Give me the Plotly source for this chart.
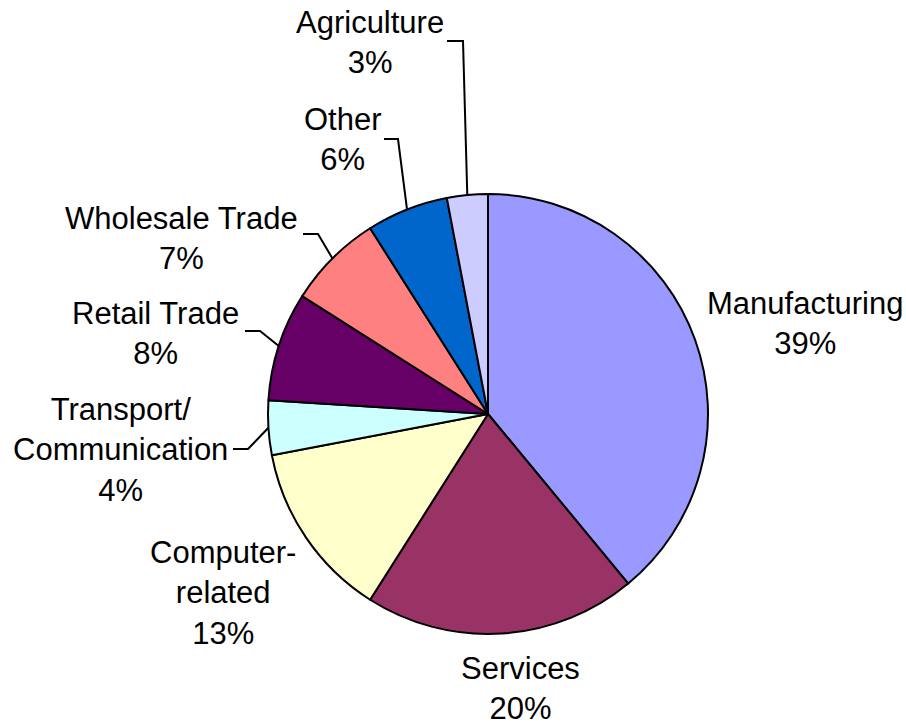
import math
import plotly.graph_objects as go

# ---- data ----
categories = ["Manufacturing", "Services", "Computer-related", "Transport/Communication",
              "Retail Trade", "Wholesale Trade", "Other", "Agriculture"]
label_lines = ["Manufacturing", "Services", "Computer-<br>related", "Transport/<br>Communication",
               "Retail Trade", "Wholesale Trade", "Other", "Agriculture"]
values = [39, 20, 13, 4, 8, 7, 6, 3]

# ---- style / layout ----
colors = ["#9999FF", "#993366", "#FFFFCC", "#CCFFFF", "#660066", "#FF8080", "#0066CC", "#CCCCFF"]
W, H = 906, 726
CX, CY, R = 488, 414, 220
FONT = "Liberation Sans, Arial, sans-serif"
FS = 31
# label block centers (pixels)
label_pos = [(805, 323), (520, 688), (223, 593), (120, 450),
             (155, 333), (181, 238), (343, 139), (370, 43)]
# leader lines: index -> (x_start, x_elbow, y) in pixels; end point derived from slice angle
leaders = {3: (233, 248, 449), 4: (245, 260, 331), 5: (303, 318, 234),
           6: (384, 398, 139), 7: (447, 463, 41)}

fig = go.Figure(go.Pie(
    labels=categories, values=values, sort=False, direction="clockwise", rotation=0,
    marker=dict(colors=colors, line=dict(color="black", width=2)),
    textinfo="none", hoverinfo="label+percent", showlegend=False,
    domain=dict(x=[(CX - R) / W, (CX + R) / W], y=[(H - CY - R) / H, (H - CY + R) / H]),
))

total = sum(values)
annotations = []
shapes = []
cum = 0
for i, (lab, v) in enumerate(zip(label_lines, values)):
    mid = (cum + v / 2) / total
    cum += v
    pct = round(100 * v / total)
    lx, ly = label_pos[i]
    annotations.append(dict(
        x=lx / W, y=1 - ly / H, xref="paper", yref="paper",
        text=f"{lab}<br>{pct}%", showarrow=False, align="center",
        xanchor="center", yanchor="middle",
        font=dict(family=FONT, size=FS, color="black"),
    ))
    if i in leaders:
        x0, x1, y0 = leaders[i]
        th = 2 * math.pi * mid
        ex = CX + R * math.sin(th)
        ey = CY - R * math.cos(th)
        pts = [(x0, y0), (x1, y0), (ex, ey)]
        path = "M " + " L ".join(f"{px / W},{1 - py / H}" for px, py in pts)
        shapes.append(dict(type="path", path=path, xref="paper", yref="paper",
                           line=dict(color="black", width=2)))

fig.update_layout(
    width=W, height=H, margin=dict(l=0, r=0, t=0, b=0),
    paper_bgcolor="white", plot_bgcolor="white",
    annotations=annotations, shapes=shapes,
)
fig.write_html("out.html")
